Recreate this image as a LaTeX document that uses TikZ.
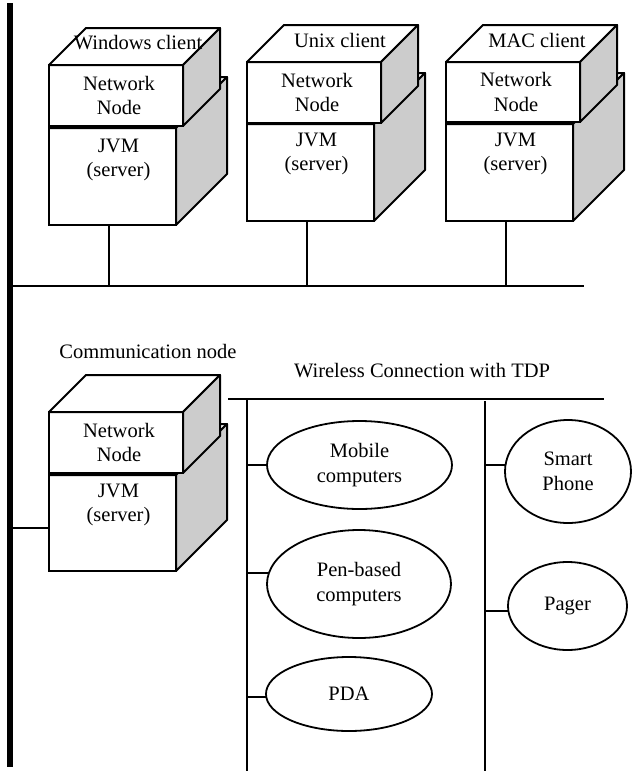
\documentclass[tikz,border=0pt]{standalone}
\usepackage{fontspec}
\setmainfont{Liberation Serif}
\usetikzlibrary{shapes.geometric,calc}
\definecolor{sidegray}{RGB}{204,204,204}
\tikzset{
  ln/.style={line width=2pt},
  face/.style={draw, fill=white, line width=2pt, inner sep=0pt, outer sep=0pt, rectangle},
  lbl/.style={font=\fontsize{20.5}{24.5}\selectfont, align=center, inner sep=0pt},
  dev/.style={ellipse, draw, fill=white, line width=1.8pt, inner sep=0pt, outer sep=0pt,
    font=\fontsize{20.5}{24.5}\selectfont, align=center},
}
\newcommand\mkcube[6]{%
  \node[face, minimum width=#4, minimum height=#5, anchor=north west] (#1) at (#2,#3) {};
  \filldraw[ln, fill=white, line join=round] (#1.north west) -- ++(#6,-#6) -- ($(#1.north east)+(#6,-#6)$) -- (#1.north east) -- cycle;
  \filldraw[ln, fill=sidegray, line join=round] (#1.north east) -- ++(#6,-#6) -- ($(#1.south east)+(#6,-#6)$) -- (#1.south east) -- cycle;
}
\begin{document}
\begin{tikzpicture}[x=1pt,y=-1pt]
\useasboundingbox (0,0) rectangle (639,772);
% left bar
\coordinate (barT) at (10,3);
\coordinate (barB) at (10,767);
\draw[line width=6pt] (barT) -- (barB);
% bus
\coordinate (busL) at (13,286);
\coordinate (busR) at (584,286);
\draw[ln] (busL) -- (busR);
% Windows client
\mkcube{wJ}{49}{128}{127}{97}{51}
\mkcube{wN}{49}{65}{134}{61}{37}
\node[lbl] (wNt) at ([xshift=3pt]wN.center) {Network\\Node};
\node[lbl] (wJt) at ([xshift=6pt,yshift=-32pt]wJ.north) {JVM\\(server)};
\node[lbl] (wT) at (138,43) {Windows client};
% Unix client
\mkcube{uJ}{247}{124}{127}{97}{51}
\mkcube{uN}{247}{62}{134}{61}{37}
\node[lbl] (uNt) at ([xshift=3pt]uN.center) {Network\\Node};
\node[lbl] (uJt) at ([xshift=6pt,yshift=-30pt]uJ.north) {JVM\\(server)};
\node[lbl] (uT) at (340,40) {Unix client};
% MAC client
\mkcube{mJ}{446}{124}{127}{97}{51}
\mkcube{mN}{446}{62}{134}{60}{37}
\node[lbl] (mNt) at ([xshift=3pt]mN.center) {Network\\Node};
\node[lbl] (mJt) at ([xshift=6pt,yshift=-30pt]mJ.north) {JVM\\(server)};
\node[lbl] (mT) at (537,40) {MAC client};
% connectors to bus
\draw[ln] ([xshift=-3.5pt]wJ.south) -- ([xshift=-3.5pt]wJ.south |- busL);
\draw[ln] ([xshift=-3.5pt]uJ.south) -- ([xshift=-3.5pt]uJ.south |- busL);
\draw[ln] ([xshift=-4pt]mJ.south) -- ([xshift=-4pt]mJ.south |- busL);
% Communication node
\mkcube{cJ}{49}{475}{127}{96}{51}
\mkcube{cN}{49}{412}{134}{61}{37}
\node[lbl] (cNt) at ([xshift=3pt]cN.center) {Network\\Node};
\node[lbl] (cJt) at ([xshift=6pt,yshift=-30pt]cJ.north) {JVM\\(server)};
\node[lbl] (cT) at (148,351) {Communication node};
\coordinate (cconn) at (13,528);
\draw[ln] (cconn) -- (cconn -| cJ.west);
% Wireless connection
\node[lbl] (wlT) at (422,371) {Wireless Connection with TDP};
\coordinate (wl) at (228,399);
\coordinate (wr) at (604,399);
\coordinate (lvT) at (247,399);
\coordinate (lvB) at (247,771);
\coordinate (rvT) at (485,401);
\coordinate (rvB) at (485,771);
\draw[ln] (wl) -- (wr);
\draw[ln] (lvT) -- (lvB);
\draw[ln] (rvT) -- (rvB);
\node[dev, minimum width=185, minimum height=88] (mob) at (359.5,465) {Mobile\\computers};
\node[dev, minimum width=184, minimum height=108] (pen) at (359,584) {Pen-based\\computers};
\node[dev, minimum width=166, minimum height=74] (pda) at (349,694) {PDA};
\node[dev, minimum width=126, minimum height=103] (sp) at (568,471.5) {Smart\\Phone};
\node[dev, minimum width=119, minimum height=88] (pg) at (567.5,606) {Pager};
\draw[ln] (mob.180) -- (mob.180 -| lvT);
\draw[ln] (pen.173) -- (pen.173 -| lvT);
\draw[ln] (pda.182) -- (pda.182 -| lvT);
\draw[ln] (sp.174) -- (sp.174 -| rvT);
\draw[ln] (pg.185) -- (pg.185 -| rvT);
\end{tikzpicture}
\end{document}
